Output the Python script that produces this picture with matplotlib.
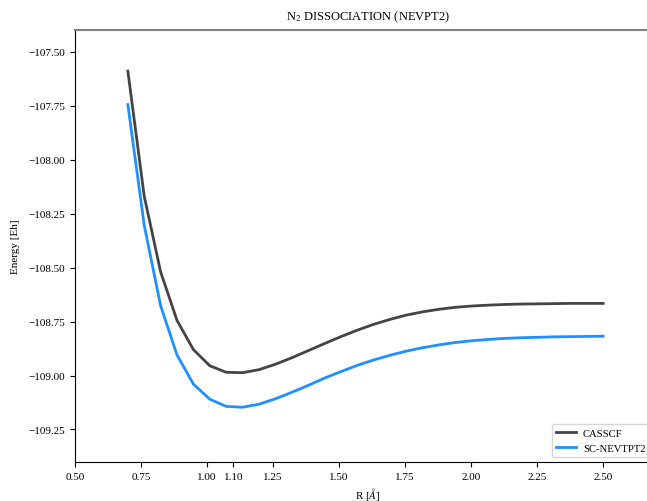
import numpy as np
import matplotlib
matplotlib.use('Agg')
import matplotlib.pyplot as plt

plt.rcParams['font.family'] = ['Liberation Serif', 'DejaVu Serif']
plt.rcParams['mathtext.fontset'] = 'stix'

# Bond lengths (Angstrom)
r = np.linspace(0.7, 2.5, 30)

# Energies (Eh)
e_casscf = [-107.590, -108.170, -108.520, -108.745, -108.880, -108.955, -108.985,
            -108.987, -108.973, -108.948, -108.918, -108.885, -108.852, -108.820,
            -108.790, -108.763, -108.740, -108.720, -108.705, -108.693, -108.684,
            -108.678, -108.674, -108.671, -108.669, -108.668, -108.667, -108.666,
            -108.666, -108.666]
e_nevpt2 = [-107.745, -108.305, -108.677, -108.905, -109.040, -109.110, -109.143,
            -109.147, -109.133, -109.108, -109.078, -109.046, -109.012, -108.982,
            -108.953, -108.928, -108.906, -108.887, -108.871, -108.858, -108.847,
            -108.839, -108.833, -108.828, -108.825, -108.823, -108.821, -108.820,
            -108.819, -108.818]

xticks = [0.50, 0.75, 1.00, 1.10, 1.25, 1.50, 1.75, 2.00, 2.25, 2.50]
yticks = [-107.50, -107.75, -108.00, -108.25, -108.50, -108.75, -109.00, -109.25]

fig = plt.figure(figsize=(6.47, 5.02), dpi=100)
# axes runs a little past the right edge, like the cropped original
ax = fig.add_axes([0.116, 0.078, 0.906, 0.86])

ax.plot(r, e_casscf, color='#444444', lw=2, label='CASSCF')
ax.plot(r, e_nevpt2, color='#1e90ff', lw=2, label='SC-NEVTPT2')

ax.set_xlim(0.5, 2.72)
ax.set_ylim(-109.4, -107.4)
ax.set_xticks(xticks)
ax.set_xticklabels([f'{t:.2f}' for t in xticks])
ax.set_yticks(yticks)
ax.set_yticklabels([f'\u2212{abs(t):.2f}' for t in yticks])
ax.tick_params(labelsize=8, length=3.5, width=0.8)

ax.spines['right'].set_visible(False)
ax.spines['top'].set_color('0.5')
ax.spines['top'].set_linewidth(1.5)

ax.set_title(r'N$_2$ DISSOCIATION (NEVPT2)', fontsize=9, pad=8)
ax.set_xlabel(r'R [$\AA$]', fontsize=8, labelpad=3)
ax.set_ylabel('Energy [Eh]', fontsize=8, labelpad=6)

leg = ax.legend(loc='lower left', fontsize=7.7, frameon=True,
                bbox_to_anchor=(0.853, 0.088), bbox_transform=fig.transFigure,
                borderaxespad=0, borderpad=0.4, handlelength=1.9, handletextpad=0.6)
leg.get_frame().set_edgecolor('0.8')

plt.savefig('out.png', dpi=100)
